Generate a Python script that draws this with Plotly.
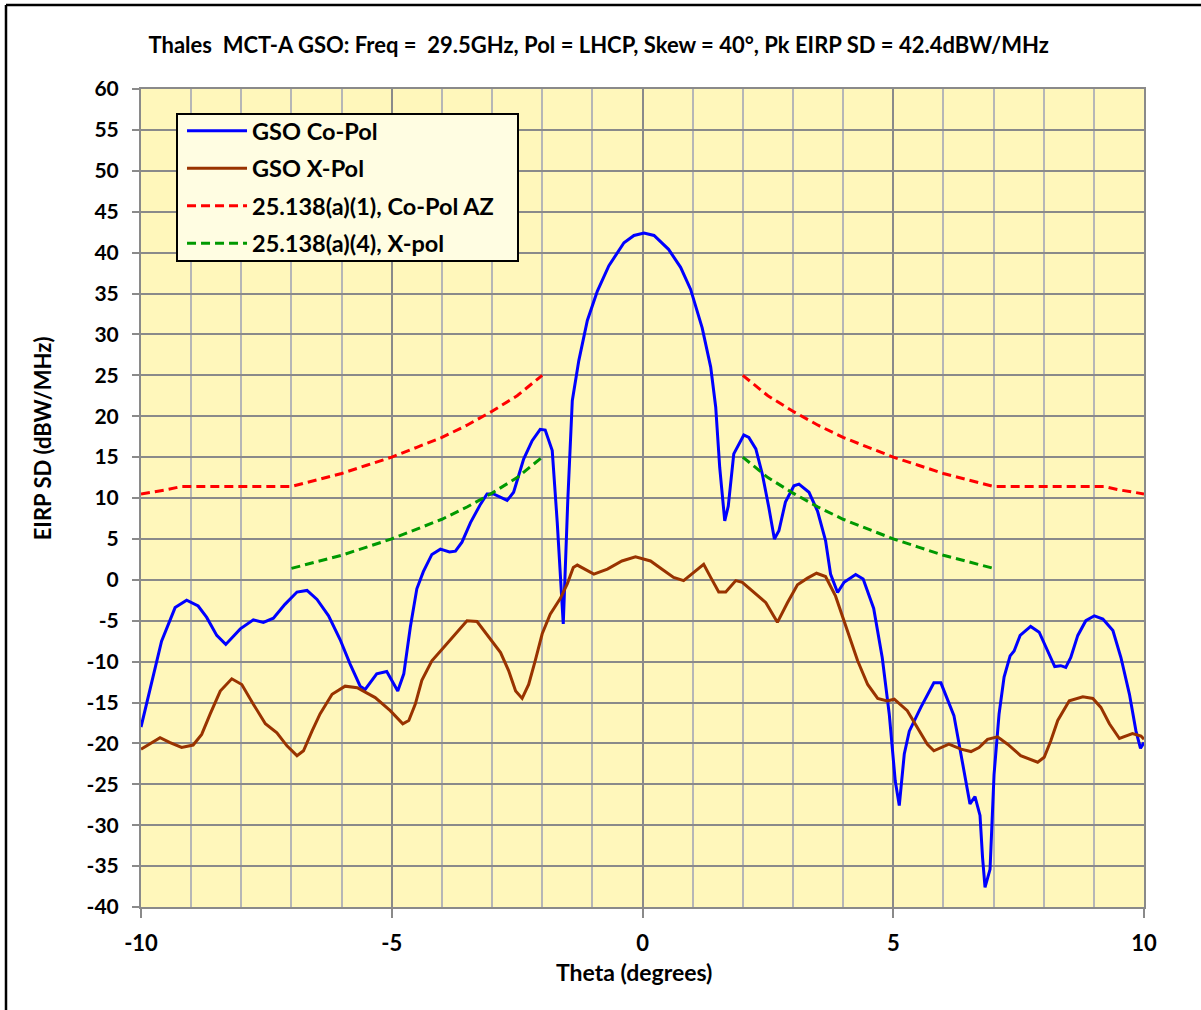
import plotly.graph_objects as go

# GSO co-polar pattern, theta (deg) vs EIRP SD (dBW/MHz)
copol_theta = [-10.0, -9.75, -9.59, -9.32, -9.09, -8.86, -8.69, -8.49, -8.31, -8.02,
               -7.76, -7.56, -7.36, -7.13, -6.89, -6.69, -6.49, -6.26, -6.03, -5.83,
               -5.63, -5.53, -5.30, -5.10, -4.88, -4.76, -4.63, -4.50, -4.37, -4.20,
               -4.03, -3.85, -3.73, -3.60, -3.43, -3.23, -3.10, -2.97, -2.70, -2.57,
               -2.37, -2.20, -2.04, -1.94, -1.80, -1.70, -1.58, -1.49, -1.40, -1.27,
               -1.10, -0.90, -0.67, -0.37, -0.17, 0.03, 0.23, 0.52, 0.76, 0.96,
               1.19, 1.36, 1.46, 1.54, 1.64, 1.71, 1.82, 2.02, 2.12, 2.26,
               2.39, 2.52, 2.63, 2.72, 2.85, 3.02, 3.12, 3.32, 3.49, 3.65,
               3.75, 3.89, 4.02, 4.25, 4.40, 4.61, 4.78, 4.92, 5.04, 5.12,
               5.22, 5.32, 5.55, 5.81, 5.95, 6.21, 6.35, 6.45, 6.53, 6.63,
               6.73, 6.78, 6.83, 6.93, 7.01, 7.11, 7.21, 7.33, 7.41, 7.53,
               7.74, 7.91, 8.08, 8.22, 8.34, 8.44, 8.54, 8.68, 8.84, 9.01,
               9.18, 9.38, 9.54, 9.71, 9.84, 9.93, 10.0]
copol_eirp = [-18.0, -11.5, -7.5, -3.4, -2.5, -3.2, -4.6, -6.8, -7.9, -6.0,
              -4.9, -5.2, -4.7, -3.0, -1.5, -1.3, -2.4, -4.4, -7.3, -10.3,
              -13.0, -13.4, -11.5, -11.2, -13.6, -11.5, -5.8, -1.1, 1.0, 3.1,
              3.75, 3.4, 3.5, 4.6, 7.0, 9.25, 10.5, 10.5, 9.7, 10.7,
              14.75, 17.0, 18.4, 18.3, 15.8, 7.0, -5.4, 9.7, 21.9, 26.8,
              31.7, 35.3, 38.4, 41.2, 42.1, 42.4, 42.1, 40.4, 38.2, 35.5,
              30.8, 26.0, 21.1, 13.7, 7.2, 9.0, 15.4, 17.7, 17.4, 16.0,
              12.9, 8.8, 5.0, 6.0, 9.5, 11.5, 11.7, 10.7, 8.4, 4.8,
              0.7, -1.55, -0.3, 0.65, 0.1, -3.5, -9.5, -16.4, -24.6, -27.6,
              -21.3, -18.5, -15.6, -12.6, -12.6, -16.6, -21.3, -25.0, -27.4, -26.5,
              -28.8, -33.9, -37.6, -35.4, -23.8, -16.4, -11.9, -9.3, -8.7, -6.8,
              -5.7, -6.4, -8.7, -10.6, -10.5, -10.7, -9.5, -6.8, -5.0, -4.4,
              -4.8, -6.2, -9.5, -14.0, -18.5, -20.6, -19.9]

# GSO cross-polar pattern
xpol_theta = [-10.0, -9.62, -9.42, -9.19, -8.96, -8.79, -8.62, -8.42, -8.19, -7.99,
              -7.76, -7.52, -7.29, -7.09, -6.89, -6.76, -6.59, -6.43, -6.19, -5.93,
              -5.69, -5.33, -5.03, -4.78, -4.66, -4.53, -4.40, -4.20, -3.97, -3.73,
              -3.50, -3.30, -3.03, -2.83, -2.67, -2.53, -2.40, -2.27, -2.14, -2.00,
              -1.84, -1.64, -1.50, -1.38, -1.30, -0.97, -0.70, -0.41, -0.14, 0.16,
              0.39, 0.62, 0.82, 1.02, 1.22, 1.36, 1.52, 1.66, 1.86, 1.99,
              2.22, 2.46, 2.69, 2.89, 3.09, 3.29, 3.47, 3.65, 3.85, 4.09,
              4.29, 4.49, 4.69, 4.88, 5.02, 5.28, 5.48, 5.68, 5.81, 6.11,
              6.35, 6.55, 6.71, 6.88, 7.08, 7.28, 7.54, 7.88, 8.01, 8.14,
              8.28, 8.51, 8.78, 8.98, 9.14, 9.31, 9.51, 9.77, 9.94, 10.0]
xpol_eirp = [-20.7, -19.3, -19.9, -20.5, -20.2, -18.9, -16.4, -13.6, -12.1, -12.8,
             -15.2, -17.6, -18.7, -20.3, -21.5, -20.9, -18.5, -16.4, -14.0, -13.0,
             -13.2, -14.4, -16.0, -17.6, -17.2, -15.2, -12.3, -9.9, -8.3, -6.6,
             -5.0, -5.1, -7.3, -8.9, -11.1, -13.6, -14.5, -12.8, -9.9, -6.6,
             -4.2, -2.3, -0.5, 1.5, 1.8, 0.7, 1.3, 2.3, 2.8, 2.3,
             1.3, 0.3, -0.1, 0.9, 1.9, 0.3, -1.5, -1.5, -0.1, -0.3,
             -1.5, -2.8, -5.2, -2.8, -0.6, 0.2, 0.8, 0.4, -2.0, -6.2,
             -9.9, -12.8, -14.5, -14.8, -14.6, -16.0, -18.1, -20.1, -20.9, -20.1,
             -20.7, -21.0, -20.5, -19.5, -19.2, -20.1, -21.5, -22.3, -21.7, -19.7,
             -17.2, -14.8, -14.3, -14.5, -15.6, -17.6, -19.4, -18.8, -19.1, -19.5]

# 25.138(a)(1) co-pol off-axis envelope (left and right branches, gap between)
mask_co_theta = [-10.0, -9.5, -9.2, -9.0, -8.5, -8.0, -7.5, -7.0, -6.5, -6.0,
                 -5.5, -5.0, -4.5, -4.0, -3.5, -3.0, -2.5, -2.0, None,
                 2.0, 2.5, 3.0, 3.5, 4.0, 4.5, 5.0, 5.5, 6.0, 6.5,
                 7.0, 7.5, 8.0, 8.5, 9.0, 9.2, 9.5, 10.0]
mask_co_eirp = [10.5, 11.0, 11.4, 11.4, 11.4, 11.4, 11.4, 11.4, 12.2, 13.0,
                14.0, 15.0, 16.2, 17.4, 18.9, 20.6, 22.5, 25.0, None,
                25.0, 22.5, 20.6, 18.9, 17.4, 16.2, 15.0, 14.0, 13.0, 12.2,
                11.4, 11.4, 11.4, 11.4, 11.4, 11.4, 11.0, 10.5]

# 25.138(a)(4) cross-pol envelope
mask_x_theta = [-7.0, -6.5, -6.0, -5.5, -5.0, -4.5, -4.0, -3.5, -3.0, -2.5, -2.0, None,
                2.0, 2.5, 3.0, 3.5, 4.0, 4.5, 5.0, 5.5, 6.0, 6.5, 7.0]
mask_x_eirp = [1.4, 2.2, 3.0, 4.0, 5.0, 6.2, 7.4, 8.9, 10.6, 12.5, 15.0, None,
               15.0, 12.5, 10.6, 8.9, 7.4, 6.2, 5.0, 4.0, 3.0, 2.2, 1.4]

# axis tick labels (plain hyphen for negatives)
x_tickvals = [-10, -5, 0, 5, 10]
x_ticktext = ["-10", "-5", "0", "5", "10"]
y_tickvals = [-40, -35, -30, -25, -20, -15, -10, -5, 0, 5, 10, 15, 20, 25, 30,
              35, 40, 45, 50, 55, 60]
y_ticktext = ["-40", "-35", "-30", "-25", "-20", "-15", "-10", "-5", "0", "5", "10",
              "15", "20", "25", "30", "35", "40", "45", "50", "55", "60"]

title_text = ("Thales  MCT-A GSO: Freq =  29.5GHz, Pol = LHCP, Skew = 40\u00b0, "
              "Pk EIRP SD = 42.4dBW/MHz")

FONT = "Lato"
GRID_MAJOR = "#8a8a8a"
GRID_MINOR = "#b6b6b6"

fig = go.Figure()
fig.add_trace(go.Scatter(x=copol_theta, y=copol_eirp, mode="lines", name="GSO Co-Pol",
                         legendgroup="a", line=dict(color="#0000ff", width=3)))
fig.add_trace(go.Scatter(x=xpol_theta, y=xpol_eirp, mode="lines", name="GSO X-Pol",
                         legendgroup="b", line=dict(color="#993300", width=3)))
fig.add_trace(go.Scatter(x=mask_co_theta, y=mask_co_eirp, mode="lines",
                         name="25.138(a)(1), Co-Pol AZ", legendgroup="c",
                         line=dict(color="#ff0000", width=3, dash="9px,5px")))
fig.add_trace(go.Scatter(x=mask_x_theta, y=mask_x_eirp, mode="lines",
                         name="25.138(a)(4), X-pol", legendgroup="d",
                         line=dict(color="#009900", width=3, dash="9px,5px")))

fig.update_layout(
    width=1201, height=1010,
    margin=dict(l=141, r=57, t=89, b=103),
    paper_bgcolor="white",
    plot_bgcolor="#fff7bb",
    font=dict(family=FONT, size=19, color="black"),
    title=dict(text="<b>" + title_text + "</b>", x=0.4985, xref="container",
               xanchor="center", y=1 - 45 / 1010, yref="container", yanchor="middle",
               font=dict(family=FONT, size=22, color="black")),
    legend=dict(x=0.0409, y=0.9757, xanchor="left", yanchor="top",
                bgcolor="rgba(0,0,0,0)", borderwidth=0,
                font=dict(family=FONT, size=23.5, color="black", weight="bold"),
                itemwidth=60, traceorder="grouped", tracegroupgap=4),
    showlegend=True,
)

fig.update_xaxes(
    range=[-10, 10], tickmode="array", tickvals=x_tickvals, ticktext=x_ticktext,
    showgrid=True, gridcolor=GRID_MAJOR, gridwidth=2,
    minor=dict(tick0=0, dtick=1, showgrid=True, gridcolor=GRID_MINOR, gridwidth=2),
    zeroline=False,
    showline=True, linecolor=GRID_MAJOR, linewidth=2, mirror=True,
    ticks="outside", ticklen=9, tickwidth=2, tickcolor=GRID_MAJOR,
    ticklabelstandoff=7,
    tickfont=dict(family=FONT, size=22, color="black", weight="bold"),
)
fig.update_yaxes(
    range=[-40, 60], tickmode="array", tickvals=y_tickvals, ticktext=y_ticktext,
    showgrid=True, gridcolor=GRID_MAJOR, gridwidth=2,
    zeroline=False,
    showline=True, linecolor=GRID_MAJOR, linewidth=2, mirror=True,
    ticks="outside", ticklen=7, tickwidth=2, tickcolor=GRID_MAJOR,
    ticklabelstandoff=9,
    tickfont=dict(family=FONT, size=21, color="black", weight="bold"),
)

# legend frame drawn as a filled box behind the legend entries
fig.add_shape(type="rect", xref="paper", yref="paper",
              x0=(177 - 141) / 1003, x1=(518 - 141) / 1003,
              y0=(907 - 261) / 818, y1=(907 - 114) / 818,
              fillcolor="#fffde2", line=dict(color="black", width=2), layer="above")

# axis titles
fig.add_annotation(text="<b>Theta (degrees)</b>", x=0.4915, y=-0.0795,
                   xref="paper", yref="paper", showarrow=False,
                   xanchor="center", yanchor="middle",
                   font=dict(family=FONT, size=23, color="black"))
fig.add_annotation(text="<b>EIRP SD (dBW/MHz)</b>", x=-0.0987, y=0.573,
                   xref="paper", yref="paper", showarrow=False, textangle=-90,
                   xanchor="center", yanchor="middle",
                   font=dict(family=FONT, size=22, color="black"))

# chart-area frame (left and top edges)
fig.add_shape(type="line", xref="paper", yref="paper", x0=-0.1346, x1=-0.1346,
              y0=1.1027, y1=-0.14, line=dict(color="black", width=2.5))
fig.add_shape(type="line", xref="paper", yref="paper", x0=-0.1346, x1=1.07,
              y0=1.1027, y1=1.1027, line=dict(color="black", width=2.5))

fig.write_html("out.html")
